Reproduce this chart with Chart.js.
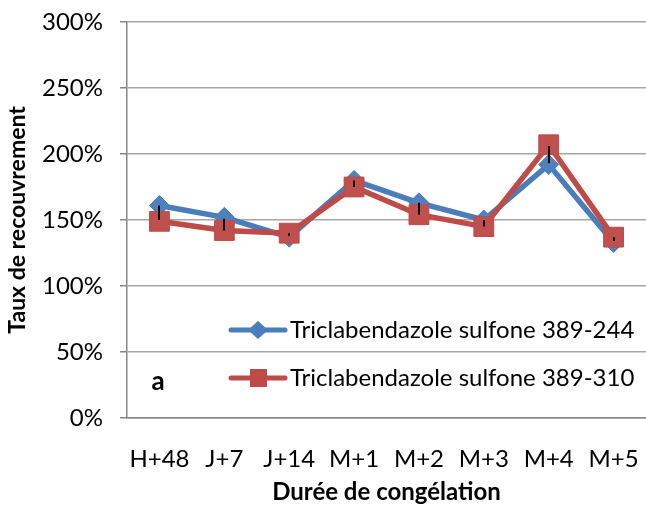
<!DOCTYPE html>
<html>
<head>
<meta charset="utf-8">
<script src="https://cdn.jsdelivr.net/npm/chart.js@4/dist/chart.umd.min.js"></script>
<style>
  html, body { margin: 0; padding: 0; background: #fff; }
</style>
</head>
<body>
<canvas id="chart" width="646" height="508"></canvas>
<script>
// recovery rate (%) by freezing duration
const categories = ["H+48", "J+7", "J+14", "M+1", "M+2", "M+3", "M+4", "M+5"];
const sulfone244 = [161, 152, 137, 180, 163, 150, 192, 133];
const sulfone310 = [149, 142, 140, 175, 154, 145, 207, 137];
const errLow = [150, 142, 138, 175, 154, 145, 193, 134];
const errHigh = [161, 151, 140, 180, 163, 150, 206, 137];
const seriesNames = ["Triclabendazole sulfone 389-244", "Triclabendazole sulfone 389-310"];
const panelLetter = "a";

const FONT = "Lato, 'Open Sans', sans-serif";
const BLUE = "#4a7ebb";
const RED = "#be4b48";

const errorBars = {
  id: "errorBars",
  afterDatasetsDraw(chart) {
    const { ctx, scales: { x, y } } = chart;
    ctx.save();
    ctx.strokeStyle = "#000";
    ctx.lineWidth = 2;
    categories.forEach((c, i) => {
      const px = Math.round(x.getPixelForValue(i));
      ctx.beginPath();
      ctx.moveTo(px, y.getPixelForValue(errLow[i]));
      ctx.lineTo(px, y.getPixelForValue(errHigh[i]));
      ctx.stroke();
    });
    ctx.restore();
  }
};

// legend sits inside the plot, lower right
const innerLegend = {
  id: "innerLegend",
  afterDraw(chart) {
    const ctx = chart.ctx;
    const rows = [
      { y: 330, color: BLUE, shape: "diamond" },
      { y: 378, color: RED, shape: "square" }
    ];
    ctx.save();
    rows.forEach((r, i) => {
      ctx.strokeStyle = r.color;
      ctx.fillStyle = r.color;
      ctx.lineWidth = 5;
      ctx.lineCap = "round";
      ctx.beginPath();
      ctx.moveTo(231, r.y);
      ctx.lineTo(285, r.y);
      ctx.stroke();
      ctx.beginPath();
      if (r.shape === "diamond") {
        ctx.moveTo(258, r.y - 9);
        ctx.lineTo(268, r.y);
        ctx.lineTo(258, r.y + 9);
        ctx.lineTo(248, r.y);
        ctx.closePath();
        ctx.fill();
      } else {
        ctx.fillRect(250, r.y - 9, 17, 18);
      }
      ctx.fillStyle = "#000";
      ctx.font = "24px " + FONT;
      ctx.textBaseline = "middle";
      ctx.textAlign = "left";
      ctx.fillText(seriesNames[i], 290, r.y);
    });
    ctx.font = "bold 26px " + FONT;
    ctx.textAlign = "center";
    ctx.fillText(panelLetter, 158, 382);
    ctx.restore();
  }
};

const ctx = document.getElementById("chart").getContext("2d");

new Chart(ctx, {
  type: "line",
  data: {
    labels: categories,
    datasets: [
      {
        label: seriesNames[0],
        data: sulfone244,
        borderColor: BLUE,
        backgroundColor: "#4f81bd",
        borderWidth: 5.5,
        pointStyle: "rectRot",
        pointRadius: 10,
        pointBorderWidth: 1,
        pointBorderColor: BLUE,
        tension: 0,
        order: 1
      },
      {
        label: seriesNames[1],
        data: sulfone310,
        borderColor: RED,
        backgroundColor: "#c0504d",
        borderWidth: 5.5,
        pointStyle: "rect",
        pointRadius: 14,
        pointBorderWidth: 1,
        pointBorderColor: RED,
        tension: 0,
        order: 0
      }
    ]
  },
  options: {
    responsive: false,
    animation: false,
    layout: { autoPadding: false, padding: { top: 22, right: 0, bottom: 0, left: 0 } },
    plugins: {
      legend: { display: false },
      tooltip: { enabled: false }
    },
    scales: {
      x: {
        offset: true,
        grid: { display: false, offset: true },
        border: { display: true, color: "#868686", width: 1.5 },
        ticks: {
          font: { family: FONT, size: 24 },
          color: "#000",
          padding: 19,
          maxRotation: 0,
          minRotation: 0,
          autoSkip: false
        },
        title: {
          display: true,
          text: "Durée de congélation",
          font: { family: FONT, size: 24, weight: "bold" },
          color: "#000",
          padding: { top: 0, bottom: 1 }
        },
        afterFit(scale) {
          scale.height = 90;
          scale.paddingRight = 0;
        }
      },
      y: {
        min: 0,
        max: 300,
        ticks: {
          stepSize: 50,
          callback: v => v + "%",
          font: { family: FONT, size: 24 },
          color: "#000",
          padding: 17
        },
        grid: { color: "#a6a6a6", lineWidth: 1.5, tickLength: 7, tickColor: "#868686" },
        border: { display: true, color: "#868686", width: 1.5 },
        title: {
          display: true,
          text: "Taux de recouvrement",
          font: { family: FONT, size: 23, weight: "bold" },
          color: "#000",
          padding: { top: 4, bottom: 0 }
        },
        afterFit(scale) {
          scale.width = 127;
          scale.paddingTop = 0;
          scale.paddingBottom = 0;
        }
      }
    }
  },
  plugins: [errorBars, innerLegend]
});
</script>
</body>
</html>
